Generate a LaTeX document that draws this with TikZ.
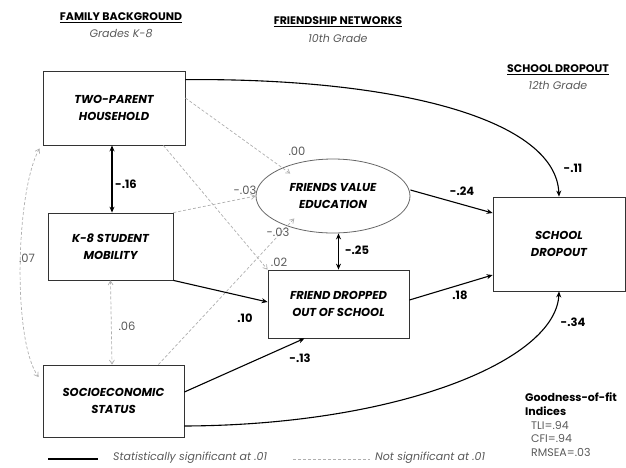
\documentclass[tikz,border=0pt]{standalone}
\usepackage{fontspec}
\setmainfont{Poppins}
\usetikzlibrary{arrows.meta,calc,shapes.geometric}
\definecolor{dgray}{RGB}{175,175,175}
\definecolor{tgray}{RGB}{90,90,90}
\tikzset{
  varbox/.style={draw=black!80, line width=0.8pt, align=center, font=\bfseries\itshape\fontsize{11.5}{17.5}\selectfont, inner sep=0pt},
  sig/.style={line width=1.1pt, -{Stealth[length=6pt,width=5pt]}},
  sigboth/.style={line width=1.1pt, {Stealth[length=6pt,width=5pt]}-{Stealth[length=6pt,width=5pt]}},
  nsig/.style={draw=dgray, line width=0.7pt, dash pattern=on 3pt off 2pt, -{Straight Barb[length=4pt,width=5pt]}},
  nsigboth/.style={draw=dgray, line width=0.7pt, dash pattern=on 3pt off 2pt, {Straight Barb[length=4pt,width=5pt]}-{Straight Barb[length=4pt,width=5pt]}},
  slab/.style={font=\bfseries\fontsize{11.5}{13}\selectfont, inner sep=0pt},
  nlab/.style={font=\fontsize{11.5}{13}\selectfont, text=tgray, inner sep=0pt},
  head/.style={font=\bfseries\fontsize{11}{13}\selectfont, inner sep=0pt},
  sub/.style={font=\itshape\fontsize{11}{13}\selectfont, text=tgray, inner sep=0pt},
  legtext/.style={font=\itshape\fontsize{11}{13}\selectfont, text=tgray, anchor=west, inner sep=0pt},
  gofhead/.style={font=\bfseries\fontsize{11}{13}\selectfont, anchor=west, inner sep=0pt},
  gofval/.style={font=\fontsize{11}{13}\selectfont, text=tgray, anchor=west, inner sep=0pt},
}
\begin{document}
\begin{tikzpicture}[x=1pt,y=-1pt]
\useasboundingbox (0,0) rectangle (626,467);
% headers
\node[head] (h1) at (121,18) {\underline{FAMILY BACKGROUND}};
\node[sub] (s1) at (121,34) {Grades K-8};
\node[head] (h2) at (338,22) {\underline{FRIENDSHIP NETWORKS}};
\node[sub] (s2) at (338,38) {10th Grade};
\node[head] (h3) at (558,70) {\underline{SCHOOL DROPOUT}};
\node[sub] (s3) at (558,85) {12th Grade};
% variables
\node[varbox, minimum width=142, minimum height=74] (tp) at (114,108) {TWO-PARENT\\HOUSEHOLD};
\node[varbox, minimum width=125, minimum height=67] (k8) at (110.5,246.5) {K-8 STUDENT\\MOBILITY};
\node[varbox, minimum width=141, minimum height=72] (ses) at (113.5,401) {SOCIOECONOMIC\\STATUS};
\node[varbox, ellipse, draw=black!60, minimum width=154, minimum height=74] (fv) at (333,196) {FRIENDS VALUE\\EDUCATION};
\node[varbox, minimum width=141, minimum height=68] (fd) at (338.5,304) {FRIEND DROPPED\\OUT OF SCHOOL};
\node[varbox, minimum width=132, minimum height=94] (sd) at (559,244) {SCHOOL\\DROPOUT};
% non-significant paths
\draw[nsig] ($(tp.east)+(0,-10)$) -- ($(fv.north west)+(12,4)$);
\draw[nsig] ($(tp.south east)+(-22,0)$) -- (fd.north west);
\draw[nsig] (k8.north east) -- (fv.west);
\draw[nsig] ($(ses.north east)+(-26,0)$) -- ($(fv.south west)+(16,-4)$);
\draw[nsigboth] (k8.south) -- ($(ses.north)+(-1.5,0)$);
\draw[nsigboth] ($(tp.south west)+(-3,3)$) .. controls (16,190) and (12,340) .. ($(ses.west)+(-4,-24)$);
% significant paths
\draw[sig] ($(tp.north east)+(0,9)$) .. controls (400,78) and (556,120) .. (sd.north);
\draw[sig] ($(ses.east)+(0,25)$) .. controls (400,425) and (556,360) .. (sd.south);
\draw[sigboth] ($(tp.south)+(-2,0)$) -- ($(k8.north)+(1.5,0)$);
\draw[sigboth] (fv.south -| fd.north) -- (fd.north);
\draw[sig] (k8.south east) -- ($(fd.west)+(0,-2)$);
\draw[sig] ($(ses.east)+(0,-9)$) -- ($(fd.south)+(-34,0)$);
\draw[sig] ($(fv.east)+(0,-6)$) -- ($(sd.west)+(0,-31)$);
\draw[sig] ($(fd.east)+(0,-4)$) -- ($(sd.west)+(0,31)$);
% labels
\node[slab] (l11) at (573,168) {-.11};
\node[slab] (l16) at (126,184) {-.16};
\node[slab] (l24) at (462,191) {-.24};
\node[slab] (l25) at (357,250) {-.25};
\node[slab] (l10) at (245,318) {.10};
\node[slab] (l13) at (300,358) {-.13};
\node[slab] (l18) at (460,295) {.18};
\node[slab] (l34) at (573,322) {-.34};
\node[nlab] (n00) at (297,151) {.00};
\node[nlab] (n03a) at (245,190) {-.03};
\node[nlab] (n03b) at (278,232) {-.03};
\node[nlab] (n02) at (279,262) {.02};
\node[nlab] (n06) at (127,326) {.06};
\node[nlab] (n07) at (27,258) {.07};
% goodness of fit
\node[gofhead] (g1) at (525,397) {Goodness-of-fit};
\node[gofhead] (g2) at (525,411) {Indices};
\node[gofval] (g3) at (531,425) {TLI=.94};
\node[gofval] (g4) at (531,438) {CFI=.94};
\node[gofval] (g5) at (531,452) {RMSEA=.03};
% legend
\coordinate (a1) at (48,459);
\coordinate (a2) at (98,459);
\draw[line width=1.1pt] (a1) -- (a2);
\node[legtext] (t1) at (113,458) {Statistically significant at .01};
\coordinate (b1) at (293,459);
\coordinate (b2) at (370,459);
\draw[draw=dgray, line width=0.7pt, dash pattern=on 3pt off 2pt] (b1) -- (b2);
\node[legtext] (t2) at (375,458) {Not significant at .01};
\end{tikzpicture}
\end{document}
